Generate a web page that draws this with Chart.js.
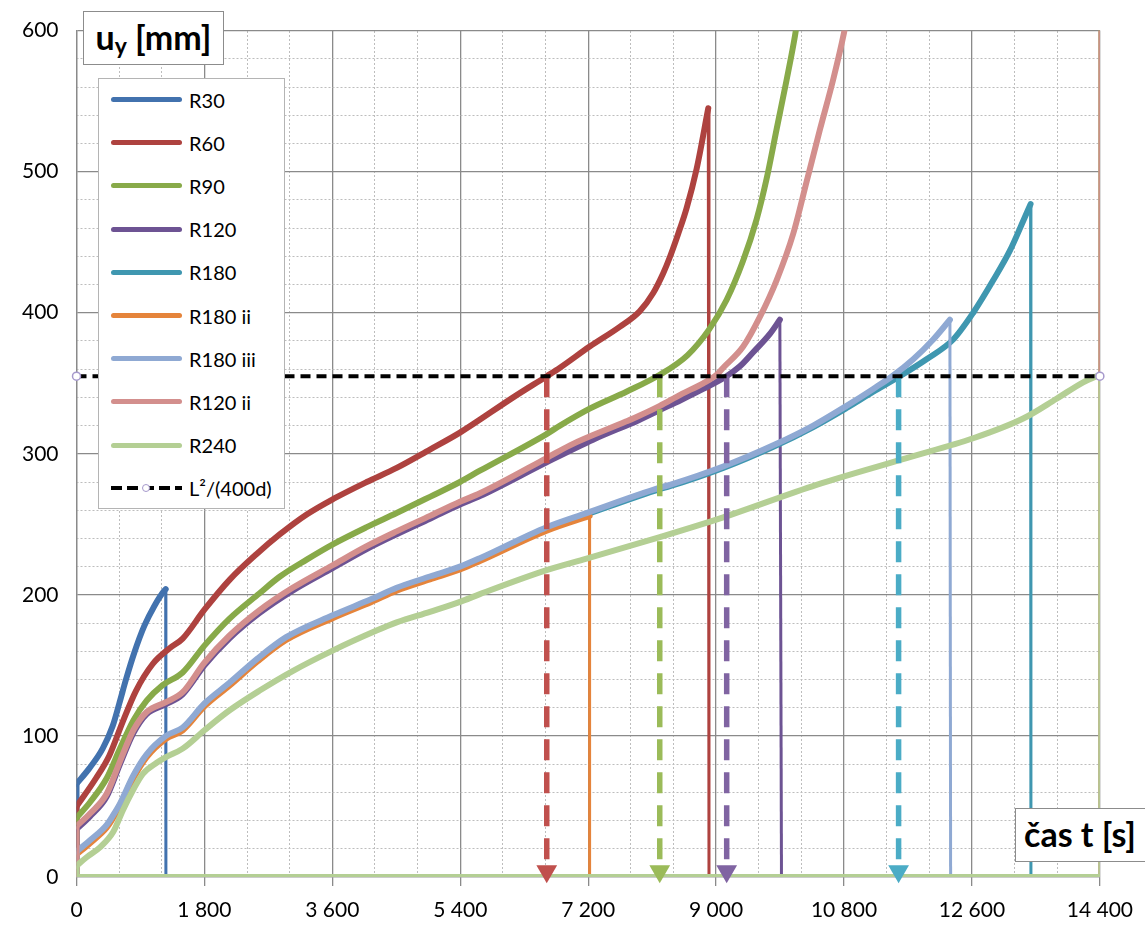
<!DOCTYPE html>
<html>
<head>
<meta charset="utf-8">
<title>u_y(t)</title>
<script src="https://cdn.jsdelivr.net/npm/chart.js"></script>
<style>
  body { margin: 0; background: #fff; }
  #wrap { position: relative; width: 1145px; height: 926px; overflow: hidden; font-family: Lato, sans-serif; }
  #chart { position: absolute; left: 0; top: 0; }
  .tbox { position: absolute; box-sizing: border-box; background: #fff; border: 1.5px solid #8c8c8c;
          font-weight: bold; font-size: 34px; color: #000; white-space: nowrap; }
  .tbox sub { font-size: 23px; position: relative; top: 4px; vertical-align: baseline; }
  #ytitle { left: 83px; top: 11px; width: 141px; height: 54px; line-height: 49px; text-align: center; }
  #xtitle { left: 1015px; top: 808px; width: 140px; height: 54px; line-height: 49px; padding-left: 8px; }
  #legend { position: absolute; left: 98px; top: 78px; width: 187px; height: 431px; box-sizing: border-box;
            background: #fff; border: 1.5px solid #b4b4b4; }
  .row { position: absolute; left: 0; width: 100%; height: 24px; }
  .swatch { position: absolute; left: 12px; top: 9.5px; width: 71px; height: 5px; border-radius: 3px; }
  .dash { position: absolute; left: 12px; top: 10px; width: 71px; height: 4px;
          background: repeating-linear-gradient(to right, #000 0 11px, transparent 11px 16px); }
  .dot { position: absolute; left: 43px; top: 8px; width: 6px; height: 6px; border-radius: 50%;
         background: #fff; border: 1.5px solid #a699cc; }
  .txt { position: absolute; left: 90px; top: 0; line-height: 24px; font-size: 20px; color: #000; }
</style>
</head>
<body>
<div id="wrap">
  <canvas id="chart" width="1145" height="926"></canvas>
  <div id="legend"></div>
  <div class="tbox" id="ytitle">u<sub>y</sub> [mm]</div>
  <div class="tbox" id="xtitle">čas t [s]</div>
</div>
<script>
// series names (legend order)
var names = ['R30', 'R60', 'R90', 'R120', 'R180', 'R180 ii', 'R180 iii', 'R120 ii', 'R240'];
var limitLabel = 'L\u00b2/(400d)';

// time [s] and deflection [mm]
var tR30 = [0, 180, 368, 509, 602, 696, 813, 954, 1094, 1235, 1255];
var uR30 = [66, 77, 91, 107, 123, 140, 159, 178, 192, 203, 204];

var tR60 = [0, 274, 461, 650, 837, 1072, 1306, 1494, 1800, 2160, 2535, 2863, 3239, 3613, 4083, 4505, 4973, 5395, 6145, 6617, 6803, 7221, 7643, 7924, 8115, 8256, 8350, 8467, 8584, 8726, 8890];
var uR60 = [50, 70, 86, 110, 132, 151, 162, 169, 189.5, 211, 229, 243, 257, 268, 280, 290, 303, 315, 340, 355, 361, 376, 390, 401, 414, 428, 439.5, 456, 474, 502, 545];

var tR90 = [0, 190, 425, 612, 800, 987, 1212, 1494, 1800, 2150, 2572, 2863, 3239, 3613, 4083, 4505, 4973, 5395, 5676, 6615, 6803, 7221, 7738, 8207, 8600, 8900, 9147, 9381, 9569, 9711, 9851, 9992, 10109, 10200, 14400];
var uR90 = [42, 53, 70, 91, 111, 125, 136, 145, 164, 183, 201, 213, 225, 236, 248, 258, 269.5, 280, 288, 314, 320, 332, 344, 356, 370, 388, 409, 437, 466, 495, 530, 565, 596, 625, 900];

var tR120 = [0, 190, 425, 612, 800, 987, 1259, 1494, 1800, 2150, 2572, 3041, 3604, 4083, 4505, 4973, 5395, 5676, 6615, 7268, 7918, 8208, 8500, 8818, 9147, 9335, 9522, 9757, 9897];
var uR120 = [34, 43, 57, 80, 102, 115.5, 122.5, 129.5, 150, 169, 187, 203, 219, 232.5, 243, 254, 264, 270, 294, 310, 324, 331, 338, 346, 355, 362, 372, 385, 395];

var tR180 = [0, 190, 425, 518, 612, 800, 987, 1259, 1494, 1800, 2160, 2550, 2950, 3604, 4150, 4505, 4973, 5395, 5676, 6615, 7177, 8208, 8350, 9100, 9805, 10367, 10836, 11211, 11586, 11961, 12336, 12618, 12899, 13134, 13321, 13425];
var uR180 = [17, 25, 36, 43, 51, 71, 86, 99, 105, 122, 137, 154, 169, 184.5, 196, 204, 212, 219, 225, 247, 257, 275, 277, 290, 305, 319, 332.5, 344, 355, 367, 381, 400, 423, 444, 465, 477];

var tR180ii = [0, 190, 425, 518, 612, 800, 987, 1259, 1494, 1800, 2160, 2550, 2950, 3604, 4150, 4505, 4973, 5395, 5676, 6615, 7220];
var uR180ii = [16, 24, 35, 42, 50, 70, 85, 98, 104, 121, 136, 153, 168, 183.5, 195, 203, 211, 218, 224, 245.5, 256];

var tR180iii = [0, 190, 425, 518, 612, 800, 987, 1259, 1494, 1800, 2160, 2550, 2950, 3604, 4150, 4505, 4973, 5395, 5676, 6615, 7177, 8208, 8350, 9100, 9805, 10367, 10836, 11211, 11492, 11774, 12055, 12290];
var uR180iii = [18, 26, 37, 44, 52, 72, 87, 100, 106, 123, 138, 155, 170, 185.5, 197, 205, 213, 220, 226, 248, 258, 276, 278, 291, 306, 320, 334, 346, 355.5, 367, 381, 395];

var tR120ii = [0, 190, 425, 612, 800, 987, 1259, 1494, 1800, 2150, 2572, 3041, 3604, 4083, 4505, 4973, 5395, 5676, 6615, 6943, 7738, 7918, 8208, 8500, 8818, 9007, 9100, 9381, 9616, 9851, 10085, 10274, 10462, 10649, 10798, 10880, 14400];
var uR120ii = [36, 45, 59, 82, 104, 117, 124, 131, 152, 171, 189, 205, 221, 234.5, 245, 256, 266, 272, 297, 306, 323, 327, 334, 342, 350, 356, 361, 376, 397, 423, 456, 493, 530, 565.6, 598, 620, 900];

var tR240 = [0, 143, 330, 518, 650, 800, 931, 1128, 1259, 1494, 1800, 2150, 2572, 3041, 3604, 4214, 4505, 4973, 5395, 5676, 6615, 7177, 8208, 9100, 10413, 11680, 12618, 13321, 13790, 14165, 14400];
var uR240 = [8, 14, 21, 32, 47, 62, 73, 81, 85, 91, 104, 118, 132, 146, 160.5, 174.5, 180.5, 188, 195, 200.5, 217.5, 225.7, 241, 255, 278, 297, 311, 325, 339, 350.7, 356];

// time where each record falls back to zero
var dropT = [1258, 8900, 14400, 9920, 13430, 7220, 12300, 14400, 14400];

// limit L^2/(400d) and the times where it is reached
var limitU = 355;
var crossT = [6617, 8207, 9149, 11568];

// x tick labels
var xTicks = [0, 1800, 3600, 5400, 7200, 9000, 10800, 12600, 14400];

var seriesT = [tR30, tR60, tR90, tR120, tR180, tR180ii, tR180iii, tR120ii, tR240];
var seriesU = [uR30, uR60, uR90, uR120, uR180, uR180ii, uR180iii, uR120ii, uR240];

var colors = ['#4272ae', '#ae423f', '#88aa49', '#6d5393', '#3f97b0', '#e5843b', '#8fa9d3', '#d38f8d', '#b4cf94'];
var crossColors = ['#c0504d', '#9bbb59', '#8064a2', '#4bacc6'];

function fmt(v) {
    return String(v).replace(/\B(?=(\d{3})+(?!\d))/g, ' ');
}

Chart.defaults.font.family = 'Lato, sans-serif';

var datasets = [];
names.forEach(function(name, i) {
    var t = seriesT[i], u = seriesU[i];
    var last = t.length - 1;
    datasets.push({
        label: name,
        data: t.map(function(x, k) { return {x: x, y: u[k]}; }),
        borderColor: colors[i],
        borderWidth: 6,
        borderCapStyle: 'round',
        borderJoinStyle: 'round',
        pointRadius: 0,
        cubicInterpolationMode: 'monotone',
        order: 100 - 10 * i
    });
    // drop to zero, run back along the axis and up to the first value
    datasets.push({
        label: name + ' drop',
        data: [{x: t[last], y: u[last]}, {x: dropT[i], y: 0}, {x: 0, y: 0}, {x: 0, y: u[0]}],
        borderColor: colors[i],
        borderWidth: 6,
        pointRadius: 0,
        tension: 0,
        segment: {
            borderWidth: function(c) { return c.p0DataIndex === 0 ? 3 : 6; }
        },
        order: 101 - 10 * i
    });
});

crossT.forEach(function(t, k) {
    datasets.push({
        label: 'cross ' + k,
        data: [{x: t, y: limitU}, {x: t, y: 4}],
        borderColor: crossColors[k],
        borderWidth: 5.5,
        borderDash: [21, 12],
        tension: 0,
        pointRadius: [0, 12],
        pointStyle: 'triangle',
        rotation: 180,
        pointBackgroundColor: crossColors[k],
        pointBorderWidth: 0,
        clip: false,
        order: 2
    });
});

datasets.push({
    label: limitLabel,
    data: [{x: 0, y: limitU}, {x: 14400, y: limitU}],
    borderColor: '#000',
    borderWidth: 4,
    borderDash: [10, 6],
    tension: 0,
    pointRadius: 4,
    pointBackgroundColor: '#fff',
    pointBorderColor: '#a699cc',
    pointBorderWidth: 1.5,
    clip: false,
    order: 0
});

var ctx = document.getElementById('chart').getContext('2d');
var chart = new Chart(ctx, {
    type: 'line',
    data: { datasets: datasets },
    options: {
        responsive: false,
        animation: false,
        devicePixelRatio: 1,
        layout: { padding: { top: 22, right: 45, left: 0, bottom: 0 } },
        plugins: { legend: { display: false }, tooltip: { enabled: false } },
        scales: {
            x: {
                type: 'linear', min: 0, max: 14400, position: 'bottom',
                afterBuildTicks: function(s) { s.ticks = xTicks.map(function(v) { return {value: v}; }); },
                ticks: { autoSkip: false, maxRotation: 0, color: '#000', font: { size: 21 }, padding: 12,
                         callback: function(v) { return fmt(v); } },
                grid: { color: '#8a8a8a', lineWidth: 1.3, tickLength: 9, tickColor: '#8a8a8a', tickWidth: 1.3 },
                border: { display: true, color: '#8a8a8a', width: 1.3 },
                afterFit: function(s) { s.height = 49; }
            },
            x2: {
                type: 'linear', min: 0, max: 14400, position: 'top',
                ticks: { display: false, stepSize: 600 },
                grid: { lineWidth: 1, drawTicks: false,
                        color: function(c) { return c.tick && c.tick.value % 1800 === 0 ? 'rgba(0,0,0,0)' : '#bdbdbd'; } },
                border: { display: false, dash: [2, 2] },
                afterFit: function(s) { s.height = 0; }
            },
            y: {
                type: 'linear', min: 0, max: 600, position: 'left',
                ticks: { stepSize: 100, color: '#000', font: { size: 21 }, padding: 18 },
                grid: { color: '#8a8a8a', lineWidth: 1.3, drawTicks: false },
                border: { display: true, color: '#8a8a8a', width: 1.3 },
                afterFit: function(s) { s.width = 76.5; }
            },
            y2: {
                type: 'linear', min: 0, max: 600, position: 'right',
                ticks: { display: false, stepSize: 20 },
                grid: { lineWidth: 1, drawTicks: false,
                        color: function(c) { return c.tick && c.tick.value % 100 === 0 ? 'rgba(0,0,0,0)' : '#bdbdbd'; } },
                border: { display: false, dash: [2, 2] },
                afterFit: function(s) { s.width = 0; }
            }
        }
    }
});

// legend box drawn in html over the plot area
var legend = document.getElementById('legend');
names.concat([limitLabel]).forEach(function(name, i) {
    var row = document.createElement('div');
    row.className = 'row';
    row.style.top = (8.5 + 43.2 * i) + 'px';
    if (i < names.length) {
        row.innerHTML = '<div class="swatch" style="background:' + colors[i] + '"></div>';
    } else {
        row.innerHTML = '<div class="dash"></div><div class="dot"></div>';
    }
    row.innerHTML += '<div class="txt">' + name + '</div>';
    legend.appendChild(row);
});
</script>
</body>
</html>
